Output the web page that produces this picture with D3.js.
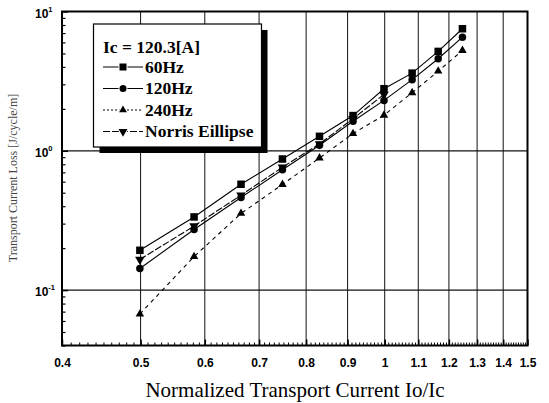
<!DOCTYPE html>
<html><head><meta charset="utf-8">
<script src="https://cdn.jsdelivr.net/npm/d3@7/dist/d3.min.js"></script>
<style>html,body{margin:0;padding:0;background:#fff;}svg{display:block;}</style>
</head><body>
<svg id="chart" width="549" height="403"></svg>
<script>
// ---- data ----
const currents = [0.499, 0.582, 0.665, 0.748, 0.831, 0.914, 0.998, 1.081, 1.164, 1.247];
const loss60 = [0.193, 0.335, 0.575, 0.873, 1.27, 1.79, 2.79, 3.61, 5.17, 7.52];
const loss120 = [0.143, 0.272, 0.462, 0.731, 1.095, 1.63, 2.30, 3.24, 4.58, 6.54];
const loss240 = [0.0673, 0.174, 0.355, 0.573, 0.888, 1.33, 1.80, 2.61, 3.73, 5.25];
const lossNorris = [0.166, 0.288, 0.480, 0.762, 1.12, 1.70, 2.54];
const xTickValues = [0.4, 0.5, 0.6, 0.7, 0.8, 0.9, 1, 1.1, 1.2, 1.3, 1.4, 1.5];
const xTickLabels = ["0.4", "0.5", "0.6", "0.7", "0.8", "0.9", "1", "1.1", "1.2", "1.3", "1.4", "1.5"];
const yTickValues = [0.1, 1, 10];
const yTickExponents = ["-1", "0", "1"];
const legendTitle = "Ic = 120.3[A]";
const seriesNames = ["60Hz", "120Hz", "240Hz", "Norris Eillipse"];
const xTitle = "Normalized Transport Current Io/Ic";
const yTitle = "Transport Current Loss [J/cycle/m]";

const series = [
  {name: seriesNames[0], x: currents, y: loss60, marker: "square", dash: null},
  {name: seriesNames[1], x: currents, y: loss120, marker: "circle", dash: null},
  {name: seriesNames[2], x: currents, y: loss240, marker: "triangle", dash: "4,4"},
  {name: seriesNames[3], x: currents.slice(0, lossNorris.length), y: lossNorris, marker: "triangleDown", dash: "7,2"}
];

const svg = d3.select("#chart");
const L = 62, R = 527.5, T = 11.5, B = 345.5;
const x = d3.scaleLog().domain([0.4, 1.5]).range([L, R]);
const y = d3.scaleLog().domain([0.04, 10]).range([B, T]);

// grid lines
const g = svg.append("g");
g.selectAll("line.vg").data(xTickValues.slice(1, -1)).enter().append("line")
  .attr("x1", d => x(d)).attr("x2", d => x(d)).attr("y1", T).attr("y2", B)
  .attr("stroke", "#111").attr("stroke-width", 1);
g.selectAll("line.hg").data([0.1, 1]).enter().append("line")
  .attr("x1", L).attr("x2", R).attr("y1", d => y(d)).attr("y2", d => y(d))
  .attr("stroke", "#111").attr("stroke-width", 1.2);

// minor ticks x (every 0.01)
const xMinor = d3.range(41, 150).map(i => i / 100);
svg.append("g").attr("transform", `translate(0,${B})`)
  .call(d3.axisBottom(x).tickValues(xMinor).tickSize(-3).tickFormat(""))
  .call(a => a.select(".domain").remove())
  .selectAll("line").attr("stroke", "#000");
// major x ticks and labels
svg.append("g").attr("transform", `translate(0,${B})`)
  .call(d3.axisBottom(x).tickValues(xTickValues).tickSize(-6).tickPadding(13)
    .tickFormat((d, i) => xTickLabels[i]))
  .call(a => a.select(".domain").remove())
  .call(a => a.selectAll("line").attr("stroke", "#000").attr("stroke-width", 1.5))
  .call(a => a.selectAll("text").attr("font-family", "Liberation Sans, Arial, sans-serif")
    .attr("font-size", 12).attr("font-weight", "bold").attr("fill", "#000"));

// minor y ticks
const yMinor = [];
[0.01, 0.1, 1].forEach(dec => { for (let k = 2; k <= 9; k++) { const v = dec * k; if (v >= 0.04 && v <= 10) yMinor.push(v); } });
svg.append("g").attr("transform", `translate(${L},0)`)
  .call(d3.axisLeft(y).tickValues(yMinor).tickSize(-3.5).tickFormat(""))
  .call(a => a.select(".domain").remove())
  .selectAll("line").attr("stroke", "#000").attr("stroke-width", 1.2);
const yAx = svg.append("g").attr("transform", `translate(${L},0)`)
  .call(d3.axisLeft(y).tickValues(yTickValues).tickSize(-6).tickFormat(""))
  .call(a => a.select(".domain").remove());
yAx.selectAll("line").attr("stroke", "#000").attr("stroke-width", 1.5);
yAx.selectAll(".tick").append("text")
  .attr("x", -27).attr("y", 5.5).attr("text-anchor", "start")
  .attr("font-family", "Liberation Sans, Arial, sans-serif").attr("font-size", 12).attr("font-weight", "bold").attr("fill", "#000")
  .each(function(d, i) {
    const t = d3.select(this);
    t.append("tspan").text("10");
    t.append("tspan").attr("dy", -6).attr("font-size", 7.5).text(yTickExponents[i]);
  });

// frame
svg.append("rect").attr("x", L).attr("y", T).attr("width", R - L).attr("height", B - T)
  .attr("fill", "none").attr("stroke", "#000").attr("stroke-width", 2);

// markers
function drawMarker(sel, type, size) {
  if (type === "square") {
    sel.append("rect").attr("x", -size / 2).attr("y", -size / 2).attr("width", size).attr("height", size).attr("fill", "#000");
  } else if (type === "circle") {
    sel.append("circle").attr("r", size / 2).attr("fill", "#000");
  } else if (type === "triangle") {
    sel.append("path").attr("d", d3.symbol(d3.symbolTriangle, size * size * 0.55)).attr("fill", "#000");
  } else {
    sel.append("path").attr("d", d3.symbol(d3.symbolTriangle, size * size * 0.7)).attr("transform", "rotate(180)").attr("fill", "#000");
  }
}

const line = d3.line().x(d => x(d[0])).y(d => y(d[1]));
series.forEach(s => {
  const pts = s.x.map((v, i) => [v, s.y[i]]);
  svg.append("path").datum(pts).attr("d", line).attr("fill", "none")
    .attr("stroke", "#000").attr("stroke-width", 1.1)
    .attr("stroke-dasharray", s.dash);
});
series.forEach(s => {
  const pts = s.x.map((v, i) => [v, s.y[i]]);
  svg.append("g").selectAll("g").data(pts).enter().append("g")
    .attr("transform", d => `translate(${x(d[0])},${y(d[1])})`)
    .each(function() { drawMarker(d3.select(this), s.marker, 7.5); });
});

// legend
const lg = svg.append("g");
const lx = 93.5, ly = 24, lw = 168, lh = 123;
lg.append("rect").attr("x", lx + 6).attr("y", ly + 6).attr("width", lw).attr("height", lh).attr("fill", "#000");
lg.append("rect").attr("x", lx).attr("y", ly).attr("width", lw).attr("height", lh)
  .attr("fill", "#fff").attr("stroke", "#000").attr("stroke-width", 1.2);
lg.append("text").attr("x", 103).attr("y", 53).text(legendTitle)
  .attr("font-family", "Liberation Serif, Times New Roman, serif").attr("font-size", 17.5).attr("font-weight", "bold");
series.forEach((s, i) => {
  const yy = 67 + i * 21.5;
  lg.append("line").attr("x1", 103).attr("x2", 143).attr("y1", yy).attr("y2", yy)
    .attr("stroke", "#000").attr("stroke-width", 1.1).attr("stroke-dasharray", s.dash === "4,4" ? "2,2" : s.dash);
  const m = lg.append("g").attr("transform", `translate(123,${yy})`).attr("stroke", "#fff").attr("stroke-width", 2).attr("paint-order", "stroke");
  drawMarker(m, s.marker, 7);
  lg.append("text").attr("x", 145).attr("y", yy + 5.5).text(s.name)
    .attr("font-family", "Liberation Serif, Times New Roman, serif").attr("font-size", 17.5).attr("font-weight", "bold");
});

// titles
svg.append("text").attr("x", 295).attr("y", 396.5).attr("text-anchor", "middle").text(xTitle)
  .attr("font-family", "Liberation Serif, Times New Roman, serif").attr("font-size", 21).attr("fill", "#000");
svg.append("text").attr("transform", "translate(17,178) rotate(-90)").attr("text-anchor", "middle").text(yTitle)
  .attr("font-family", "Liberation Serif, Times New Roman, serif").attr("font-size", 12).attr("fill", "#444");
</script>
</body></html>
